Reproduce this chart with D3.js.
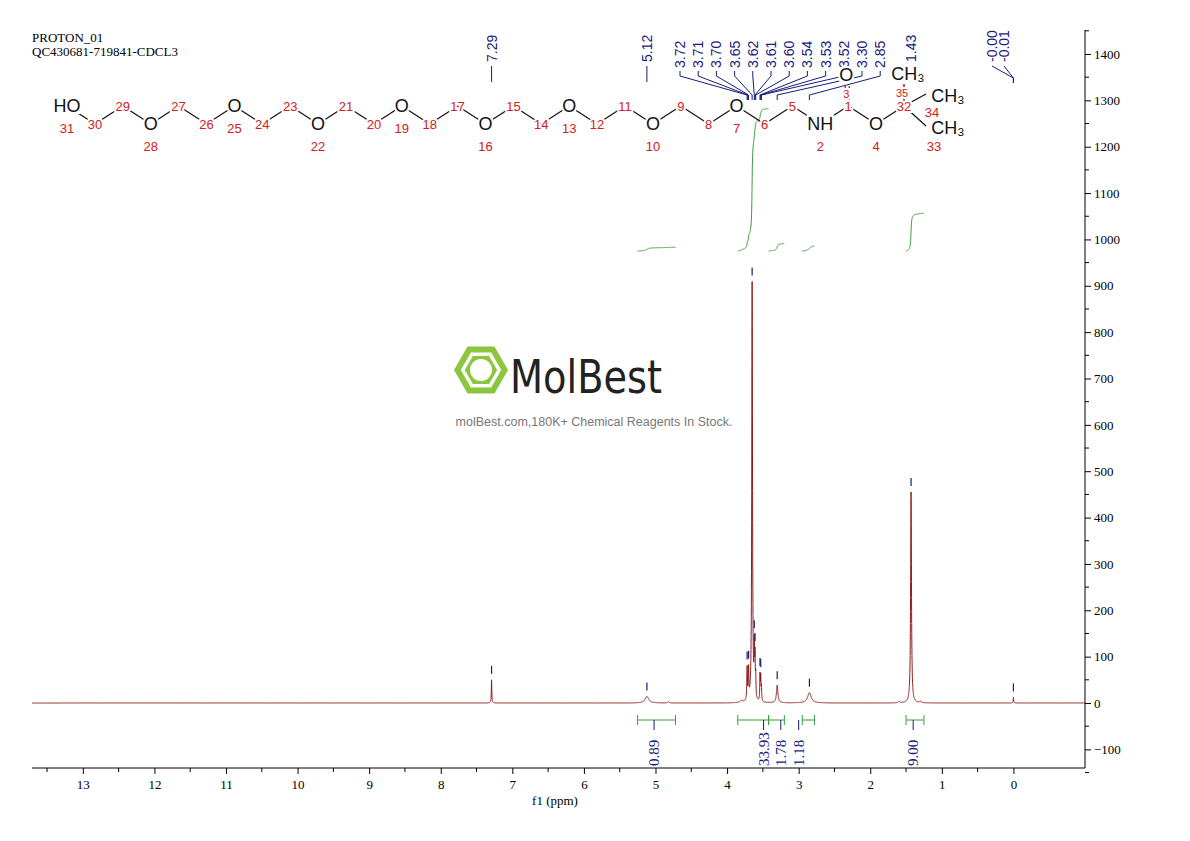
<!DOCTYPE html>
<html><head><meta charset="utf-8">
<script src="https://cdn.jsdelivr.net/npm/d3@7"></script>
<style>body{margin:0;background:#fff}svg{display:block}</style>
</head><body><svg id="chart" width="1190" height="841"></svg>
<script>
// peak list (ppm, height, half width)
const peakPpm   = [7.29, 5.12, 4.82, 3.80, 3.72, 3.70, 3.65, 3.62, 3.61, 3.60, 3.54, 3.53, 3.52, 3.30, 2.85, 1.60, 1.43, 1.30, 0.00];
const peakHeight= [50,   14,   3,    4,    70,   65,   905,  100,  80,   45,   55,   50,   30,   38,   22,   3,    455,  3,    12];
const peakWidth = [0.004,0.03, 0.01, 0.02, 0.005,0.005,0.006,0.004,0.004,0.004,0.004,0.004,0.004,0.012,0.03, 0.01, 0.007,0.01, 0.004];

const topLabels   = ['3.72','3.71','3.70','3.65','3.62','3.61','3.60','3.54','3.53','3.52','3.30','2.85'];
const singleLabels= [['7.29',7.29],['5.12',5.12],['1.43',1.43]];
const intRanges = [[5.25,4.72],[3.85,3.42],[3.42,3.20],[2.95,2.78],[1.50,1.25]];
const intValues = [0.89, 33.93, 1.78, 1.18, 9.00];
const intLabelPpm = [5.02, 3.49, 3.25, 3.0, 1.40];
const xTicks = d3.range(0, 14);
const yTicks = d3.range(-100, 1401, 100);

const svg = d3.select('#chart');
const blue = '#1a1a7a', red = '#8b1c1c', green = '#3c9c3c';

const x = d3.scaleLinear().domain([13.71, -1.0]).range([32, 1085]);
const y = d3.scaleLinear().domain([0, 1400]).range([703, 54]);

function lor(p) {
  let s = 0;
  for (let i = 0; i < peakPpm.length; i++) {
    const d = (p - peakPpm[i]) / peakWidth[i];
    s += peakHeight[i] / (1 + d * d);
  }
  return s;
}
const pts = d3.range(13.71, -1.0, -0.001).map(p => [p, lor(p)]);
svg.append('path').attr('d', d3.line().x(d => x(d[0])).y(d => y(d[1]))(pts))
  .attr('fill', 'none').attr('stroke', red).attr('stroke-width', 1);

// axes
const xAxis = svg.append('g').attr('transform', 'translate(0,768)')
  .call(d3.axisBottom(x).tickValues(xTicks).tickSize(6).tickFormat(d3.format('d')));
xAxis.select('.domain').attr('d', 'M32,0H1085');
xAxis.selectAll('text').attr('font-family', 'Liberation Serif').attr('font-size', 13).attr('dy', '0.9em');
svg.append('g').selectAll('line').data(d3.range(0.5, 13.7, 1)).join('line')
  .attr('x1', d => x(d)).attr('x2', d => x(d)).attr('y1', 768).attr('y2', 772).attr('stroke', '#000');
svg.append('text').attr('x', 555).attr('y', 805).attr('text-anchor', 'middle')
  .attr('font-family', 'Liberation Serif').attr('font-size', 13).text('f1 (ppm)');

const yAxis = svg.append('g').attr('transform', 'translate(1085,0)')
  .call(d3.axisRight(y).tickValues(yTicks).tickSize(6).tickFormat(d => d < 0 ? '\u2212' + (-d) : d));
yAxis.select('.domain').attr('d', 'M0,30V768');
yAxis.selectAll('text').attr('font-family', 'Liberation Serif').attr('font-size', 13);
svg.append('g').selectAll('line').data(d3.range(-150, 1451, 100)).join('line')
  .attr('x1', 1085).attr('x2', 1089).attr('y1', d => y(d)).attr('y2', d => y(d)).attr('stroke', '#000');

// header
svg.append('text').attr('x', 32).attr('y', 42).attr('font-family', 'Liberation Serif').attr('font-size', 13).text('PROTON_01');
svg.append('text').attr('x', 32).attr('y', 56).attr('font-family', 'Liberation Serif').attr('font-size', 13).text('QC430681-719841-CDCL3');

// peak ticks over peaks
const tickPeaks = [7.29, 5.12, 3.72, 3.70, 3.65, 3.62, 3.61, 3.54, 3.53, 3.30, 2.85, 1.43, 0.0];
svg.append('g').selectAll('line').data(tickPeaks).join('line')
  .attr('x1', d => x(d)).attr('x2', d => x(d))
  .attr('y1', d => y(lor(d)) - 14).attr('y2', d => y(lor(d)) - 6)
  .attr('stroke', blue).attr('stroke-width', 1.2);

// top labels
const tl = svg.append('g');
function vlabel(px, py, txt) {
  tl.append('text').attr('transform', `translate(${px + 5},${py}) rotate(-90)`)
    .attr('font-family', 'Liberation Sans').attr('font-size', 14).attr('fill', blue).text(txt);
}
singleLabels.forEach(([t, p]) => {
  const px = x(p);
  tl.append('line').attr('x1', px).attr('x2', px).attr('y1', 66).attr('y2', 82).attr('stroke', blue);
  vlabel(px, 62, t);
});
topLabels.forEach((t, i) => {
  const px = 680 + i * 18.2, tp = x(+t);
  vlabel(px, 68, t);
  tl.append('path').attr('d', `M${px},71V76L${tp},95V100`).attr('fill', 'none').attr('stroke', blue);
});
[['-0.00', 992], ['-0.01', 1004]].forEach(([t, px]) => {
  vlabel(px, 62, t);
  tl.append('path').attr('d', `M${px},66L${x(0)},78V83`).attr('fill', 'none').attr('stroke', blue);
});

// integral curves
const ig = svg.append('g');
intRanges.forEach((r, k) => {
  const ps = d3.range(r[0], r[1], -0.002);
  let acc = 0; const cum = ps.map(p => (acc += lor(p)));
  const rise = intValues[k] * 4.2 / 0.4636;
  const base = 975;
  const line = ps.map((p, i) => [x(p), y(base + rise * cum[i] / acc)]);
  ig.append('path').attr('d', d3.line()(line)).attr('fill', 'none').attr('stroke', green);
  const a = x(r[0]), b = x(r[1]);
  ig.append('path').attr('d', `M${a},720H${b}M${a},715V725M${b},715V725`).attr('stroke', green).attr('fill', 'none');
  const lp = x(intLabelPpm[k]);
  ig.append('line').attr('x1', lp).attr('x2', lp).attr('y1', 720).attr('y2', 730).attr('stroke', blue);
  ig.append('text').attr('transform', `translate(${lp + 5},${766}) rotate(-90)`)
    .attr('font-family', 'Liberation Serif').attr('font-size', 15).attr('fill', blue).text(intValues[k].toFixed(2));
});

// watermark
const wm = svg.append('g');
const hex = d3.range(6).map(i => [481 + 27 * Math.cos(Math.PI / 3 * i), 370 + 27 * Math.sin(Math.PI / 3 * i)]);
wm.append('polygon').attr('points', hex.join(' ')).attr('fill', '#8cc63f');
wm.append('polygon').attr('points', hex.map(([a, b]) => [481 + (a - 481) * 0.75, 370 + (b - 370) * 0.75]).join(' ')).attr('fill', '#fff');
wm.append('polygon').attr('points', hex.map(([a, b]) => [481 + (a - 481) * 0.6, 370 + (b - 370) * 0.6]).join(' ')).attr('fill', '#8cc63f');
wm.append('circle').attr('cx', 481).attr('cy', 370).attr('r', 11).attr('fill', '#fff');
wm.append('text').attr('x', 510).attr('y', 393).attr('font-family', 'DejaVu Sans Condensed, DejaVu Sans').attr('font-size', 46)
  .attr('fill', '#222').attr('textLength', 152).attr('lengthAdjust', 'spacingAndGlyphs').text('MolBest');
wm.append('text').attr('x', 594).attr('y', 426).attr('text-anchor', 'middle').attr('font-family', 'Liberation Sans')
  .attr('font-size', 12.5).attr('fill', '#777').text('molBest.com,180K+ Chemical Reagents In Stock.');

// structure
const atoms = ['HO','30','29','O','27','26','O','24','23','O','21','20','O','18','17','O','15','14','O','12','11','O','9','8','O','6','5','NH','1','O','32'];
const onums = {0:'31',3:'28',6:'25',9:'22',12:'19',15:'16',18:'13',21:'10',24:'7',27:'2',29:'4'};
const sg = svg.append('g').attr('font-family', 'Liberation Sans');
const pos = atoms.map((a, i) => [67 + i * 27.9, i % 2 === 0 ? 106 : 124]);
const cx = pos[30][0];
const bonds = d3.pairs(pos);
bonds.push([pos[30], [cx + 22, 94]], [pos[30], [cx + 22, 126]], [pos[30], [cx, 84]]);
sg.selectAll('line.b').data(bonds).join('line').attr('class', 'b')
  .attr('x1', d => d[0][0]).attr('y1', d => d[0][1]).attr('x2', d => d[1][0]).attr('y2', d => d[1][1])
  .attr('stroke', '#111').attr('stroke-width', 1.2);
sg.append('path').attr('d', `M${pos[28][0] - 3},86V100M${pos[28][0] + 1},86V100`).attr('stroke', '#111').attr('stroke-dasharray', '2,2');
function lab(px, py, t, col, fs, bg) {
  if (bg) sg.append('rect').attr('x', px - bg / 2).attr('y', py - 8).attr('width', bg).attr('height', 16).attr('fill', '#fff');
  sg.append('text').attr('x', px).attr('y', py).attr('text-anchor', 'middle').attr('dominant-baseline', 'central')
    .attr('font-size', fs).attr('fill', col).attr('stroke', '#fff').attr('stroke-width', 4).attr('paint-order', 'stroke').text(t);
}
pos.forEach(([px, py], i) => {
  const a = atoms[i];
  if (/^\d/.test(a)) lab(px, py, a, '#d02020', 13);
  else {
    lab(px, py, a, '#111', 18, a.length * 13);
    if (onums[i]) lab(px, py + 22, onums[i], '#d02020', 13);
  }
});
lab(pos[28][0] - 2, 75, 'O', '#111', 18, 14); lab(pos[28][0] - 2, 94, '3', '#d02020', 11);
lab(cx + 4, 74, 'CH\u2083', '#111', 18, 36); lab(cx - 2, 93, '35', '#d02020', 11);
lab(cx + 44, 96, 'CH\u2083', '#111', 18, 36); lab(cx + 28, 112, '34', '#d02020', 13);
lab(cx + 44, 128, 'CH\u2083', '#111', 18, 36); lab(cx + 30, 146, '33', '#d02020', 13);
</script></body></html>
